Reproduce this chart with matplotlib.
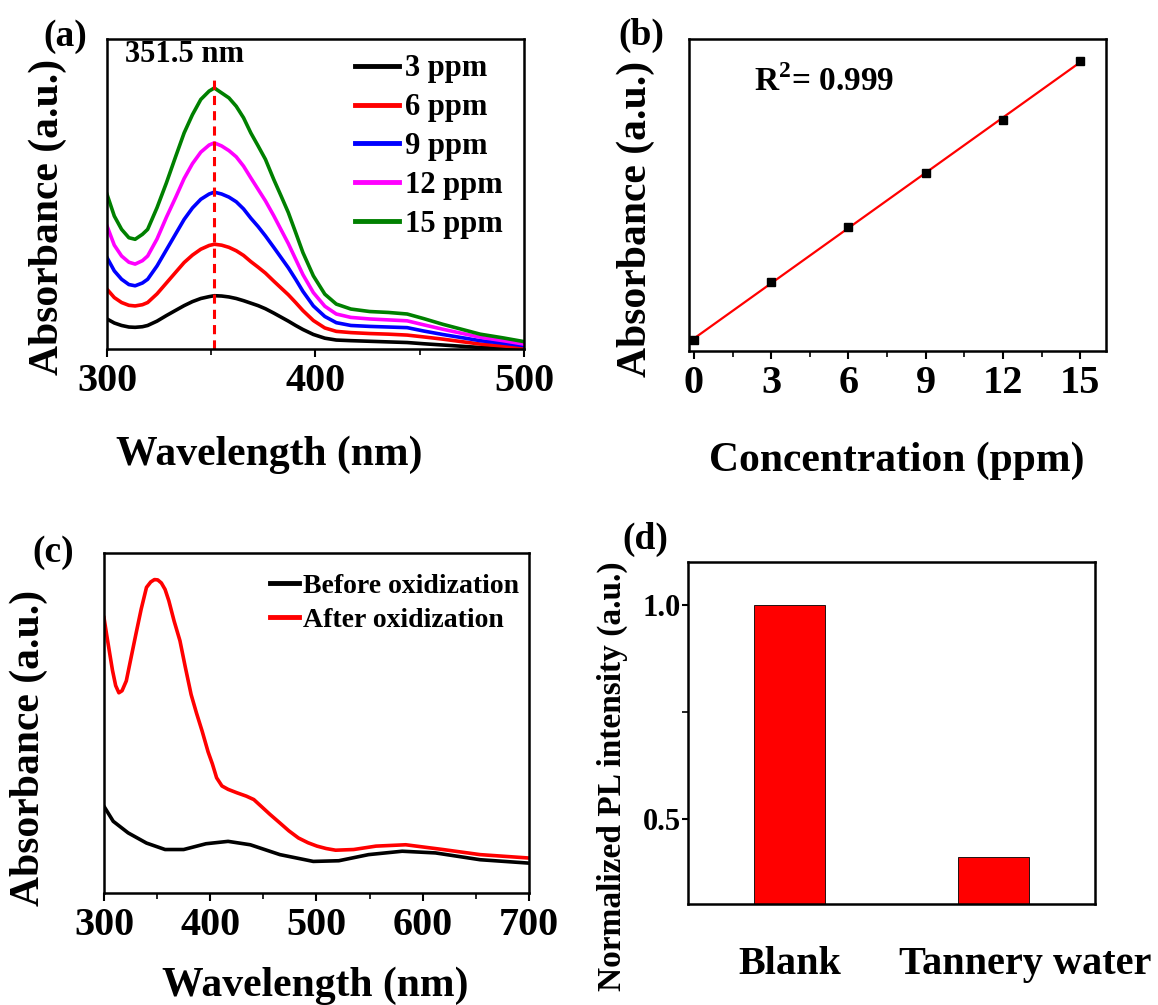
import numpy as np
import matplotlib
matplotlib.use('Agg')
import matplotlib.pyplot as plt
from matplotlib.ticker import MultipleLocator
import matplotlib.transforms as mtransforms

plt.rcParams['font.family'] = ['Liberation Serif', 'DejaVu Serif']
plt.rcParams['font.weight'] = 'bold'
plt.rcParams['axes.labelweight'] = 'bold'
plt.rcParams['axes.linewidth'] = 1.8
plt.rcParams['mathtext.fontset'] = 'custom'
plt.rcParams['mathtext.rm'] = 'Liberation Serif:bold'
plt.rcParams['mathtext.bf'] = 'Liberation Serif:bold'

# (a) UV-vis spectra at different concentrations (absorbance, a.u.)
wl_a = [300, 303.5, 307, 310.5, 313.5, 317, 319.5, 324, 328.5, 333,
        337, 341, 345, 349, 351.5, 355, 358.5, 362, 365.5, 369,
        372.5, 376, 380, 383.5, 387, 390.5, 394, 399, 404.5, 410,
        417, 426, 435, 444, 452, 461, 470, 479, 490, 500]
abs_3 = [.097, .084, .076, .071, .070, .072, .076, .090, .108, .125,
         .140, .153, .163, .169, .172, .171, .168, .163, .156, .148,
         .140, .130, .116, .103, .090, .076, .063, .047, .035, .029,
         .027, .025, .023, .021, .017, .013, .009, .005, .002, .0]
abs_6 = [.193, .166, .150, .141, .139, .143, .150, .178, .213, .248,
         .279, .303, .322, .334, .338, .335, .328, .317, .302, .282,
         .264, .245, .219, .197, .175, .150, .124, .092, .068, .057,
         .053, .050, .048, .045, .039, .032, .024, .016, .010, .005]
abs_9 = [.295, .252, .225, .208, .204, .213, .225, .268, .320, .372,
         .418, .455, .483, .500, .506, .500, .490, .475, .452, .422,
         .395, .365, .328, .295, .262, .225, .186, .139, .105, .085,
         .076, .073, .071, .069, .058, .047, .037, .027, .019, .011]
abs_12 = [.397, .335, .300, .280, .274, .285, .300, .355, .425, .490,
          .550, .598, .635, .658, .665, .655, .640, .620, .590, .552,
          .515, .478, .430, .385, .340, .290, .240, .182, .138, .113,
          .102, .097, .094, .091, .078, .064, .051, .038, .027, .016]
abs_15 = [.499, .429, .386, .359, .354, .370, .386, .456, .536, .622,
          .697, .756, .805, .832, .842, .826, .810, .783, .746, .697,
          .655, .612, .547, .494, .440, .376, .311, .236, .177, .145,
          .129, .121, .118, .113, .098, .080, .064, .048, .036, .024]
labels_a = ['3 ppm', '6 ppm', '9 ppm', '12 ppm', '15 ppm']
colors_a = ['black', 'red', 'blue', 'magenta', 'green']
peak_wl = 351.5

# (b) calibration
conc = [0, 3, 6, 9, 12, 15]
abs_b = [0.036, 0.221, 0.398, 0.572, 0.741, 0.929]

# (c) before / after oxidization
wl_after = [300, 302.5, 305, 308, 311, 314, 317, 321, 325, 330,
            335, 340, 344, 347.5, 350.6, 354, 357.5, 361, 366, 371.5,
            376.5, 382, 387, 392.4, 398, 402, 406, 411, 416.8, 425,
            434, 441, 448, 456, 465.6, 474, 483, 492, 500.5, 509,
            518, 535, 556, 584, 619, 654, 700]
abs_after = [.810, .760, .712, .655, .610, .589, .595, .624, .685, .761,
             .835, .899, .915, .922, .921, .912, .893, .860, .800, .742,
             .665, .584, .530, .476, .415, .380, .339, .315, .305, .295,
             .285, .275, .255, .232, .206, .183, .162, .148, .138, .131,
             .126, .128, .138, .142, .128, .113, .103]
wl_before = [300, 308.7, 322.7, 340, 357.5, 375, 396, 416.8, 437.7, 465.6, 497, 521, 549, 580.7, 612, 654, 700]
abs_before = [0.255, 0.211, 0.177, 0.147, 0.128, 0.128, 0.145, 0.152, 0.142, 0.113, 0.093, 0.095, 0.113, 0.123, 0.118, 0.098, 0.088]

# (d) normalized PL intensity
samples = ['Blank', 'Tannery water']
pl = [1.0, 0.41]

fig = plt.figure(figsize=(11.58, 10.05), dpi=100)
ax1 = fig.add_axes([0.0924, 0.6527, 0.360, 0.3085])
ax2 = fig.add_axes([0.595, 0.6507, 0.360, 0.3104])
ax3 = fig.add_axes([0.0898, 0.1114, 0.367, 0.3383])
ax4 = fig.add_axes([0.594, 0.1005, 0.3515, 0.340])

for ax in [ax1, ax2, ax3, ax4]:
    ax.tick_params(which='major', direction='out', length=6, width=1.5, labelsize=29, pad=4)
    ax.tick_params(which='minor', direction='out', length=4, width=1.2)

# ---- (a)
for y, lab, c in zip([abs_3, abs_6, abs_9, abs_12, abs_15], labels_a, colors_a):
    ax1.plot(wl_a, y, color=c, lw=2.6, label=lab)
ax1.plot([peak_wl, peak_wl], [0, 0.882], color='red', ls=(0, (3, 2)), lw=2.2)
ax1.text(337.4, 0.95, '%.1f nm' % peak_wl, fontsize=22, ha='center', va='center')
ax1.set_xlim(300, 500)
ax1.set_ylim(0, 1)
ax1.set_yticks([])
ax1.set_xticks([300, 400, 500])
ax1.xaxis.set_minor_locator(MultipleLocator(50))
ax1.set_xlabel('Wavelength (nm)', fontsize=30)
ax1.set_ylabel('Absorbance (a.u.)', fontsize=30)
ax1.xaxis.set_label_coords(0.39, -0.28)
ax1.yaxis.set_label_coords(-0.096, 0.425)
leg1 = ax1.legend(loc='upper left', bbox_to_anchor=(0.595, 0.95), frameon=False, fontsize=22,
                  handlelength=1.45, handletextpad=0.18, labelspacing=0.32, borderpad=0, borderaxespad=0)
for h in leg1.get_lines():
    h.set_linewidth(3.5)

# ---- (b)
k, b0 = np.polyfit(conc, abs_b, 1)
xx = np.array([conc[0], conc[-1]])
ax2.plot(xx, k * xx + b0, color='red', lw=1.6)
ax2.plot(conc, abs_b, ls='none', marker='s', ms=6, color='black')
ax2.text(0.156, 0.862, 'R$^{2}$= 0.999', transform=ax2.transAxes, fontsize=24, ha='left', va='center')
ax2.set_xlim(-0.19, 16.0)
ax2.set_ylim(0, 1)
ax2.set_yticks([])
ax2.set_xticks(conc)
ax2.xaxis.set_minor_locator(MultipleLocator(1.5))
ax2.set_xlabel('Concentration (ppm)', fontsize=30)
ax2.set_ylabel('Absorbance (a.u.)', fontsize=30)
ax2.xaxis.set_label_coords(0.499, -0.29)
ax2.yaxis.set_label_coords(-0.082, 0.423)

# ---- (c)
ax3.plot(wl_before, abs_before, color='black', lw=2.6, label='Before oxidization')
ax3.plot(wl_after, abs_after, color='red', lw=2.6, label='After oxidization')
ax3.set_xlim(300, 700)
ax3.set_ylim(0, 1)
ax3.set_yticks([])
ax3.set_xticks([300, 400, 500, 600, 700])
ax3.xaxis.set_minor_locator(MultipleLocator(50))
ax3.set_xlabel('Wavelength (nm)', fontsize=30)
ax3.set_ylabel('Absorbance (a.u.)', fontsize=30)
ax3.xaxis.set_label_coords(0.497, -0.215)
ax3.yaxis.set_label_coords(-0.132, 0.427)
leg3 = ax3.legend(loc='upper left', bbox_to_anchor=(0.39, 0.94), frameon=False, fontsize=20,
                  handlelength=1.07, handletextpad=0.13, labelspacing=0.3, borderpad=0, borderaxespad=0)
for h in leg3.get_lines():
    h.set_linewidth(3.5)

# ---- (d)
xpos = np.arange(len(samples))
ax4.bar(xpos, pl, width=0.35, color='red', edgecolor='black', linewidth=0.6)
ax4.set_xlim(-0.5, 1.5)
ax4.set_ylim(0.3, 1.1)
ax4.set_yticks([0.5, 1.0])
ax4.yaxis.set_minor_locator(MultipleLocator(0.25))
ax4.tick_params(axis='y', which='major', labelsize=22, pad=1, length=4)
ax4.tick_params(axis='x', which='both', length=0, pad=30)
ax4.set_xticks(xpos)
ax4.set_xticklabels(samples)
offset = mtransforms.ScaledTranslation(0.32, 0, fig.dpi_scale_trans)
lbl = ax4.get_xticklabels()[1]
lbl.set_transform(lbl.get_transform() + offset)
ax4.set_ylabel('Normalized PL intensity (a.u.)', fontsize=24)
ax4.yaxis.set_label_coords(-0.147, 0.374)

# panel letters
for s, (px, py) in zip(['(a)', '(b)', '(c)', '(d)'],
                       [(0.056, 0.964), (0.5535, 0.965), (0.0458, 0.4498), (0.557, 0.4637)]):
    fig.text(px, py, s, fontsize=27, ha='center', va='center')

fig.savefig('out.png', dpi=100, facecolor='white')
